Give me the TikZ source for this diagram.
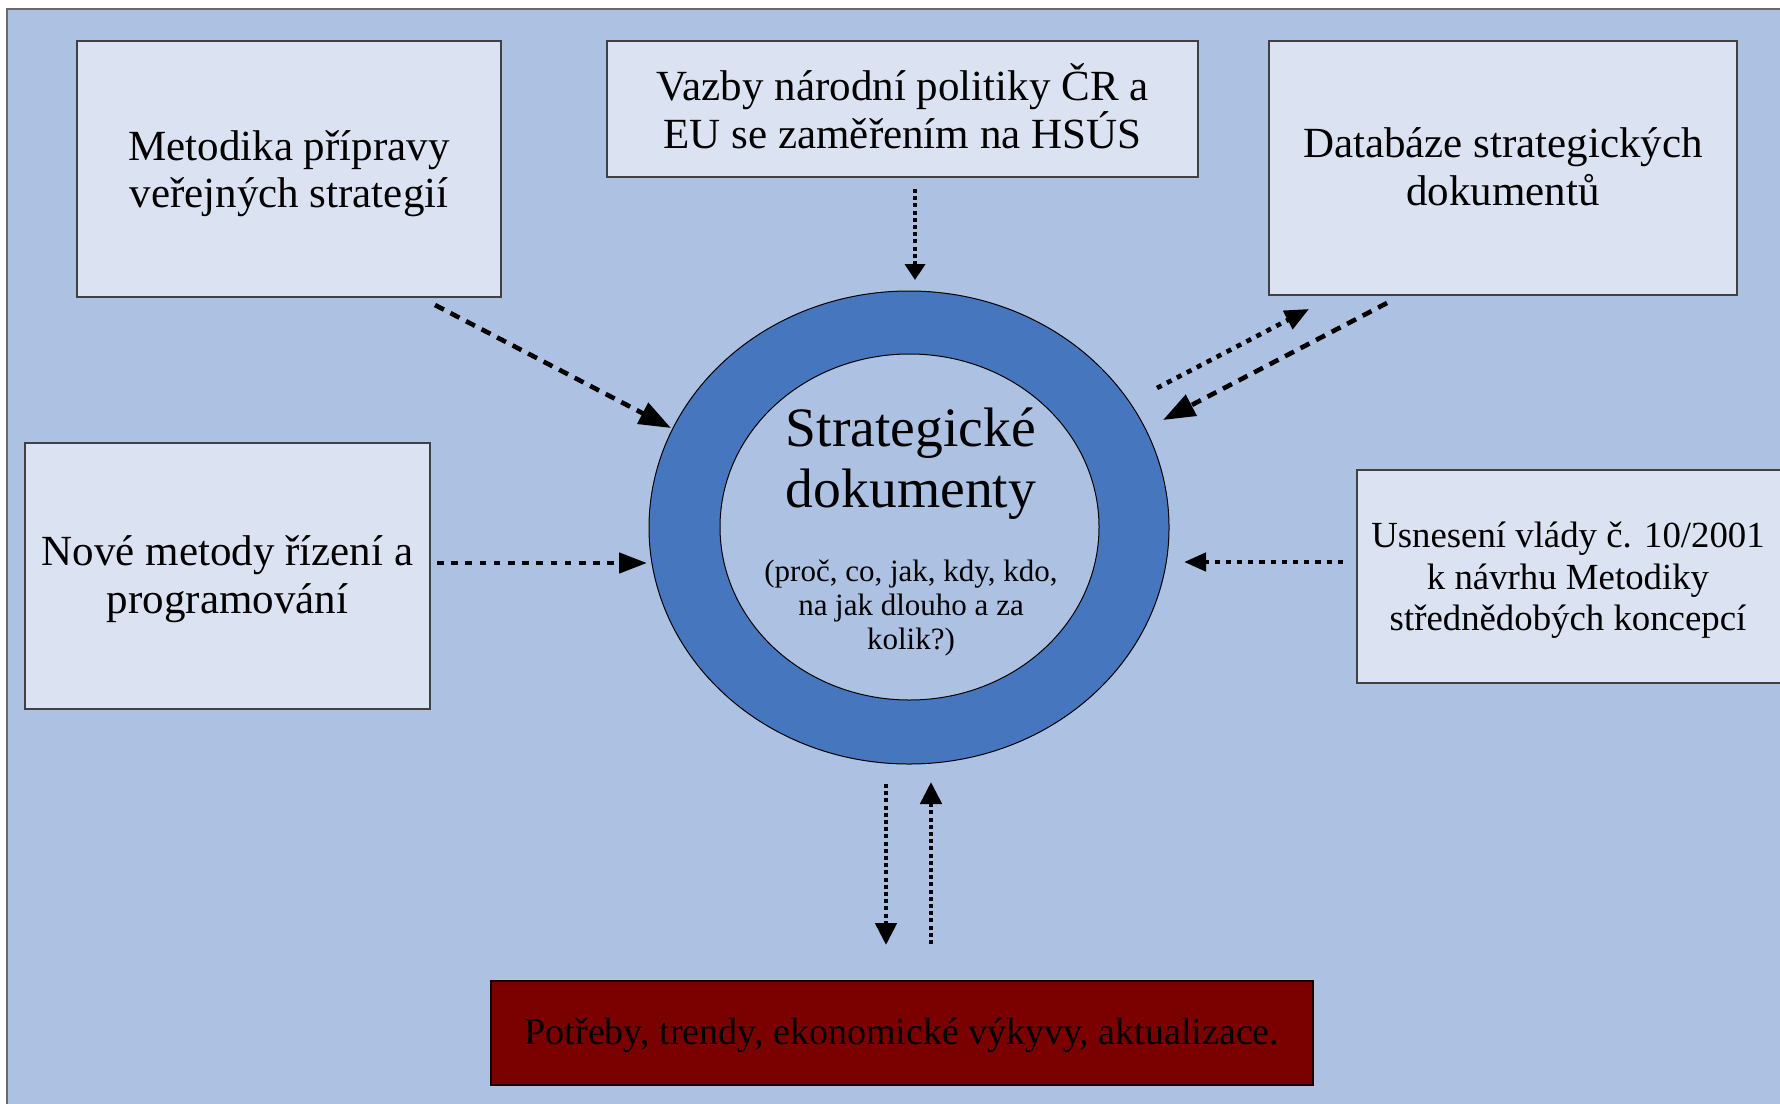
\documentclass[tikz,border=0pt]{standalone}
\usepackage{fontspec}
\setmainfont{Liberation Serif}
\usetikzlibrary{arrows.meta,shapes.geometric}
\definecolor{bg}{RGB}{173,193,226}
\definecolor{boxfill}{RGB}{219,226,241}
\definecolor{ringblue}{RGB}{70,119,190}
\definecolor{darkred}{RGB}{123,0,0}
\definecolor{framegray}{RGB}{105,105,105}
\newcommand{\boxlines}[2]{\raisebox{#1}[\height][\depth]{\vbox{\halign{\hfil##\hfil\cr#2\crcr}}}}
\begin{document}
\begin{tikzpicture}[x=0.5pt,y=-0.5pt,
  infobox/.style={draw=black!75, line width=0.7pt, fill=boxfill, inner sep=0pt,
    font=\fontsize{21.5}{23.9}\selectfont},
  smallbox/.style={infobox, font=\fontsize{18.4}{20.75}\selectfont},
  ringshape/.style={ellipse, draw=black, line width=0.5pt, inner sep=0pt},
  dasharrow/.style={line width=2.3pt, dash pattern=on 5pt off 3.75pt, -{Triangle[length=16pt,width=11.5pt]}},
  dotarrow/.style={line width=2.3pt, dash pattern=on 2.6pt off 3pt, -{Triangle[length=12pt,width=10pt]}},
  finedotarrow/.style={line width=2.4pt, dash pattern=on 2pt off 1.6pt, -{Triangle[length=11pt,width=10.5pt]}}
]
\useasboundingbox (0,0) rectangle (1780,1103);
\fill[white] (0,0) rectangle (1780,1103);
\draw[framegray, fill=bg, line width=0.8pt] (7,9) rectangle (1820,1140);

% boxes
\node[infobox, minimum width=212pt, minimum height=128pt] (metodika) at (289,169)
  {\boxlines{-2.3pt}{Metodika přípravy\cr veřejných strategií}};
\node[infobox, minimum width=295.5pt, minimum height=68pt] (vazby) at (902.5,109)
  {\boxlines{1.4pt}{Vazby národní politiky ČR a\cr EU se zaměřením na HSÚS}};
\node[infobox, minimum width=234pt, minimum height=127pt] (databaze) at (1503,168)
  {\boxlines{0.6pt}{Databáze strategických\cr dokumentů}};
\node[infobox, minimum width=202.5pt, minimum height=133pt] (nove) at (227.5,576)
  {\boxlines{-1.7pt}{Nové metody řízení a\cr programování}};
\node[smallbox, minimum width=215pt, minimum height=106.5pt] (usneseni) at (1572,576.5)
  {\hspace*{-4pt}\boxlines{-2pt}{Usnesení vlády č. 10/2001\cr k návrhu Metodiky\cr střednědobých koncepcí}};
\node[draw=black!80!darkred, line width=0.6pt, fill=darkred, inner sep=0pt,
  minimum width=411pt, minimum height=52pt, font=\fontsize{19}{21}\selectfont] (potreby) at (902,1033)
  {\raisebox{-1.1pt}[\height][\depth]{Potřeby, trendy, ekonomické výkyvy, aktualizace.}};

% central ring
\node[ringshape, fill=ringblue, minimum width=260pt, minimum height=236.5pt] (ring) at (909,527.5) {};
\node[ringshape, fill=bg, minimum width=189.5pt, minimum height=173pt] (core) at (909.5,527) {};
\node[align=center, font=\fontsize{27.8}{30.5}\selectfont, inner sep=0pt] (title) at (911,464)
  {Strategické\\dokumenty};
\node[align=center, font=\fontsize{15.5}{17}\selectfont, inner sep=0pt] (question) at (911,608.5)
  {(proč, co, jak, kdy, kdo,\\na jak dlouho a za\\kolik?)};

% connector end points
\coordinate (m1) at (435,305);   \coordinate (r1) at (671,428);
\coordinate (v1) at (915,189);   \coordinate (r2) at (915,280);
\coordinate (r3) at (1157,388);  \coordinate (d3) at (1309,309);
\coordinate (d4) at (1387,303);  \coordinate (r4) at (1163,420);
\coordinate (n5) at (437,563);   \coordinate (r5) at (647,563);
\coordinate (u6) at (1343,562);  \coordinate (r6) at (1184,562);
\coordinate (r7) at (886,784);   \coordinate (p7) at (886,945);
\coordinate (p8) at (931,944);   \coordinate (r8) at (931,782);

% connectors
\draw[dasharrow] (m1) -- (r1);
\draw[finedotarrow, -{Triangle[length=8pt,width=10pt]}] (v1) -- (r2);
\draw[dotarrow, -{Triangle[length=12pt,width=10pt]}] (r3) -- (d3);
\draw[dasharrow] (d4) -- (r4);
\draw[dotarrow, dash pattern=on 3.3pt off 3.8pt, -{Triangle[length=14pt,width=10pt]}] (n5) -- (r5);
\draw[dotarrow, -{Triangle[length=11pt,width=9pt]}] (u6) -- (r6);
\draw[finedotarrow] (r7) -- (p7);
\draw[finedotarrow] (p8) -- (r8);
\end{tikzpicture}
\end{document}
